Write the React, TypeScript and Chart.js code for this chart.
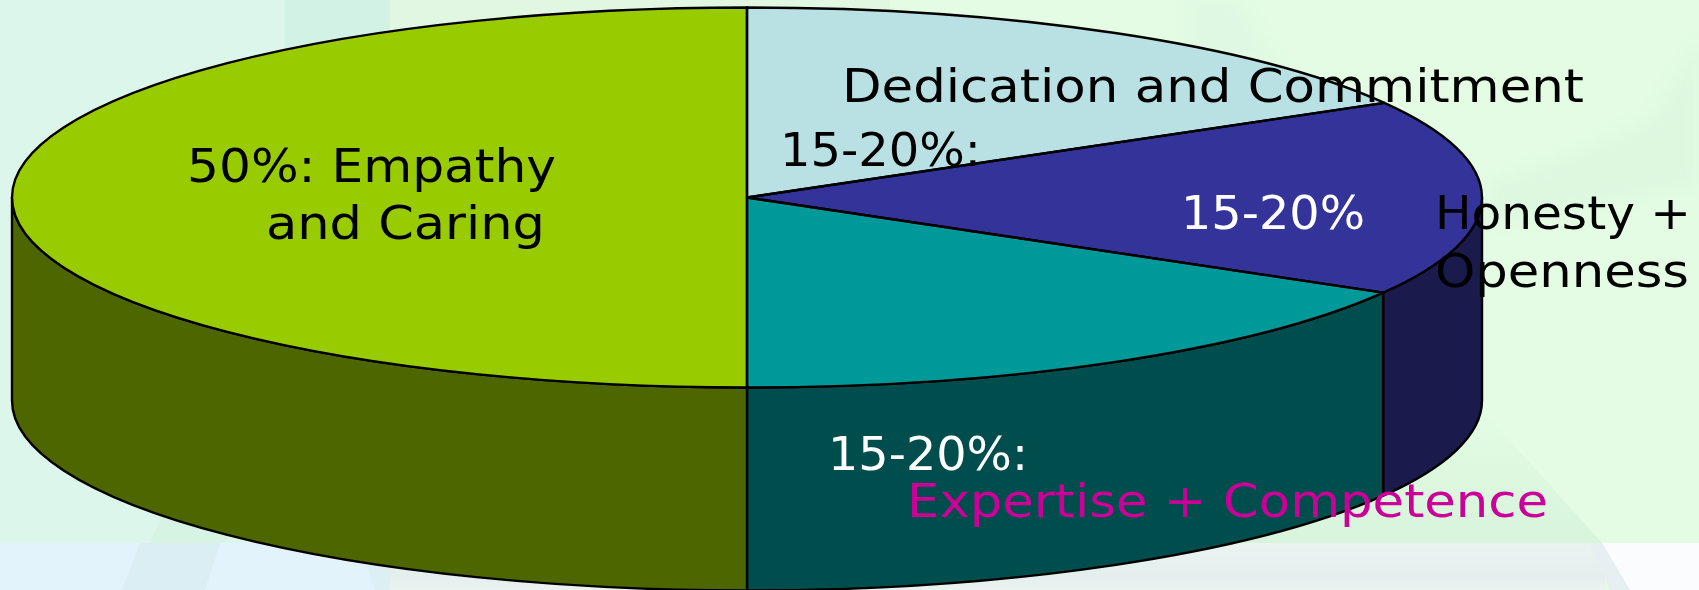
import React, { useEffect, useRef } from "react";
import { Chart, registerables } from "chart.js";

Chart.register(...registerables);

const categories = ["Dedication and Commitment", "Honesty + Openness", "Expertise + Competence", "Empathy and Caring"];
const shares = [16.7, 16.65, 16.65, 50];
const topColors = ["#B9E0E3", "#333399", "#009999", "#99CC00"];
const wallColors = ["#5C7072", "#1A1A4D", "#004D4D", "#4D6600"];

const RX = 735;
const RY = 190;
const DEPTH = 203;

type Note = { text: string; left: number; right: number; base: number; color: string };
const notes: Note[] = [
  { text: "50%: Empathy", left: 187, right: 556, base: 182, color: "#000000" },
  { text: "and Caring", left: 266, right: 545, base: 239, color: "#000000" },
  { text: "Dedication and Commitment", left: 842, right: 1584, base: 102, color: "#000000" },
  { text: "15-20%:", left: 780, right: 981, base: 166, color: "#000000" },
  { text: "15-20%", left: 1181, right: 1365, base: 229, color: "#FFFFFF" },
  { text: "Honesty +", left: 1435, right: 1691, base: 229, color: "#000000" },
  { text: "Openness", left: 1435, right: 1689, base: 287, color: "#000000" },
  { text: "15-20%:", left: 828, right: 1028, base: 470, color: "#FFFFFF" },
  { text: "Expertise + Competence", left: 907, right: 1548, base: 517, color: "#CC0099" },
];

function poly(ctx: CanvasRenderingContext2D, pts: number[][], color: string | CanvasGradient) {
  ctx.fillStyle = color;
  ctx.beginPath();
  pts.forEach(([x, y], i) => (i ? ctx.lineTo(x, y) : ctx.moveTo(x, y)));
  ctx.closePath();
  ctx.fill();
}

const backdrop = {
  id: "backdrop",
  beforeDraw(chart: any) {
    const ctx: CanvasRenderingContext2D = chart.ctx;
    const { width: w, height: h } = chart;
    ctx.save();
    // right-hand pale green field
    ctx.fillStyle = "#E3FCE3";
    ctx.fillRect(0, 0, w, h);
    // left mint field
    ctx.fillStyle = "#DDF6EB";
    ctx.fillRect(0, 0, 390, 543);
    poly(ctx, [[285, 0], [390, 0], [390, 80], [285, 80]], "#D2F2E6");
    ctx.fillStyle = "#E2F7E2";
    ctx.fillRect(390, 0, 500, 30);
    poly(ctx, [[150, 543], [170, 500], [240, 500], [225, 543]], "#D6F3E4");
    // soft shapes on the right
    ctx.save();
    ctx.filter = "blur(7px)";
    poly(ctx, [[1699, 40], [1650, 120], [1570, 155], [1485, 185], [1485, 225], [1699, 185]], "#DEF8E0");
    poly(ctx, [[1190, 0], [1237, 0], [1275, 60], [1190, 60]], "#DEF8E3");
    ctx.restore();
    const g = ctx.createLinearGradient(0, 410, 0, 543);
    g.addColorStop(0, "#E3FCE3");
    g.addColorStop(1, "#D8F4DC");
    poly(ctx, [[1200, 410], [1482, 410], [1602, 543], [1200, 543]], g);
    // bottom band
    ctx.fillStyle = "#E3F3FC";
    ctx.fillRect(0, 543, 390, 47);
    poly(ctx, [[140, 543], [220, 543], [205, 590], [122, 590]], "#DAEEF4");
    poly(ctx, [[358, 543], [390, 543], [390, 590], [375, 590]], "#DCEFF4");
    const b = ctx.createLinearGradient(0, 543, 0, 590);
    b.addColorStop(0, "#EAF3F0");
    b.addColorStop(0.7, "#E4EFED");
    b.addColorStop(1, "#EAF3F0");
    ctx.fillStyle = b;
    ctx.fillRect(390, 543, 1215, 47);
    poly(ctx, [[1602, 543], [1699, 543], [1699, 590], [1630, 590]], "#FBFCFE");
    poly(ctx, [[1590, 543], [1602, 543], [1630, 590], [1610, 590]], "#E6F0F2");
    ctx.restore();
  },
};

const pieSolid = {
  id: "pieSolid",
  beforeDatasetsDraw(chart: any) {
    const ctx: CanvasRenderingContext2D = chart.ctx;
    const arcs = chart.getDatasetMeta(0).data;
    const { x: cx, y: cy } = arcs[0];
    ctx.save();
    ctx.lineWidth = 2.4;
    ctx.strokeStyle = "#000000";
    ctx.lineJoin = "round";
    arcs.forEach((arc: any, i: number) => {
      const a0 = Math.max(arc.startAngle, 0);
      const a1 = Math.min(arc.endAngle, Math.PI);
      if (a1 <= a0) return;
      ctx.fillStyle = wallColors[i];
      ctx.beginPath();
      ctx.ellipse(cx, cy, RX, RY, 0, a0, a1);
      ctx.ellipse(cx, cy + DEPTH, RX, RY, 0, a1, a0, true);
      ctx.closePath();
      ctx.fill();
      ctx.stroke();
    });
    ctx.restore();
    ctx.save();
    ctx.translate(cx, cy);
    ctx.scale(1, RY / RX);
    ctx.translate(-cx, -cy);
  },
  afterDatasetsDraw(chart: any) {
    const ctx: CanvasRenderingContext2D = chart.ctx;
    ctx.restore();
    const arcs = chart.getDatasetMeta(0).data;
    ctx.save();
    ctx.lineWidth = 2.4;
    ctx.strokeStyle = "#000000";
    ctx.lineJoin = "round";
    arcs.forEach((arc: any) => {
      ctx.beginPath();
      ctx.moveTo(arc.x, arc.y);
      ctx.ellipse(arc.x, arc.y, RX, RY, 0, arc.startAngle, arc.endAngle);
      ctx.closePath();
      ctx.stroke();
    });
    ctx.restore();
  },
  afterDraw(chart: any) {
    const ctx: CanvasRenderingContext2D = chart.ctx;
    ctx.save();
    ctx.font = '46px "DejaVu Sans"';
    ctx.textBaseline = "alphabetic";
    notes.forEach((n) => {
      const wide = ctx.measureText(n.text).width;
      ctx.save();
      ctx.translate(n.left, n.base);
      ctx.scale((n.right - n.left) / wide, 1);
      ctx.fillStyle = n.color;
      ctx.fillText(n.text, 0, 0);
      ctx.restore();
    });
    ctx.restore();
  },
};

export default function App() {
  const ref = useRef<HTMLCanvasElement>(null);
  useEffect(() => {
    document.body.style.margin = "0";
    const chart = new Chart(ref.current!, {
      type: "pie",
      data: {
        labels: categories,
        datasets: [
          {
            data: shares,
            backgroundColor: topColors,
            borderWidth: 0,
            clip: false,
          } as any,
        ],
      },
      options: {
        responsive: false,
        animation: false,
        radius: RX,
        layout: { padding: { right: 205, bottom: 195 } },
        plugins: { legend: { display: false }, tooltip: { enabled: false } },
      } as any,
      plugins: [backdrop, pieSolid],
    });
    return () => chart.destroy();
  }, []);
  return <canvas ref={ref} width={1699} height={590} style={{ display: "block" }} />;
}
